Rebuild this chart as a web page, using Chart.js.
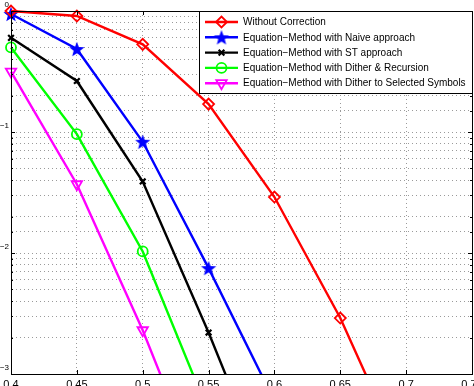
<!DOCTYPE html>
<html>
<head>
<meta charset="utf-8">
<script src="https://cdn.jsdelivr.net/npm/chart.js@4.4.1/dist/chart.umd.min.js"></script>
<style>
  html, body { margin: 0; padding: 0; background: #fff; overflow: hidden; }
  #wrap { width: 474px; height: 386px; }
</style>
</head>
<body>
<div id="wrap"><canvas id="c"></canvas></div>
<script>
/* ---- data -------------------------------------------------------------- */
const xValues = [0.4, 0.45, 0.5, 0.55, 0.6, 0.65, 0.7];
const withoutCorrection = [1, 0.909, 0.53, 0.17, 0.029, 0.0029, 0.00018];
const naiveApproach = [0.945, 0.485, 0.083, 0.0075, 0.0006];
const stApproach = [0.6, 0.264, 0.039, 0.0022, 0.0001];
const ditherRecursion = [0.5, 0.096, 0.0103, 0.00048];
const ditherSelected = [0.316, 0.037, 0.0023, 0.0001];
const seriesNames = [
  "Without Correction",
  "Equation\u2212Method with Naive approach",
  "Equation\u2212Method with ST approach",
  "Equation\u2212Method with Dither & Recursion",
  "Equation\u2212Method with Dither to Selected Symbols",
];
const xMin = 0.4, xMax = 0.75, xStep = 0.05;
const yMin = 0.001, yMax = 1;

const FONT = "'Liberation Sans', Arial, Helvetica, sans-serif";

/* filled pentagram, MATLAB style */
function starImage(color, r) {
  const s = Math.ceil(r * 2 + 2);
  const cv = document.createElement("canvas");
  cv.width = cv.height = s;
  const g = cv.getContext("2d");
  g.fillStyle = color;
  g.beginPath();
  for (let i = 0; i < 10; i++) {
    const rad = i % 2 ? r * 0.42 : r;
    const a = -Math.PI / 2 + (i * Math.PI) / 5;
    const px = s / 2 + rad * Math.cos(a), py = s / 2 + rad * Math.sin(a) + 0.8;
    i ? g.lineTo(px, py) : g.moveTo(px, py);
  }
  g.closePath();
  g.fill();
  return cv;
}

const pts = (ys) => ys.map((y, i) => ({ x: xValues[i], y }));

function series(label, ys, color, style, extra) {
  return Object.assign({
    label,
    data: pts(ys),
    borderColor: color,
    backgroundColor: "rgba(0,0,0,0)",
    pointBorderColor: color,
    pointBackgroundColor: "rgba(0,0,0,0)",
    borderWidth: 2.4,
    pointBorderWidth: 1.8,
    pointRadius: 5,
    pointStyle: style,
    tension: 0,
    clip: { left: 10, top: 10, right: 0, bottom: 0 },
  }, extra || {});
}

const datasets = [
  series(seriesNames[0], withoutCorrection, "#ff0000", "rectRot", { pointRadius: 5.5 }),
  series(seriesNames[1], naiveApproach, "#0000ff", starImage("#0000ff", 8)),
  series(seriesNames[2], stApproach, "#000000", "crossRot", { pointRadius: 4, pointBorderWidth: 2.2 }),
  series(seriesNames[3], ditherRecursion, "#00ff00", "circle", { pointRadius: 5 }),
  series(seriesNames[4], ditherSelected, "#ff00ff", "triangle", { pointRadius: 6, pointRotation: 180 }),
];

/* box round the axes with inward ticks, like MATLAB */
const boxPlugin = {
  id: "box",
  afterDraw(chart) {
    const { ctx, chartArea: a, scales } = chart;
    ctx.save();
    ctx.strokeStyle = "#000";
    ctx.lineWidth = 1;
    ctx.beginPath();
    scales.x.ticks.forEach((t) => {
      const px = Math.round(scales.x.getPixelForValue(t.value)) + 0.5;
      ctx.moveTo(px, a.bottom); ctx.lineTo(px, a.bottom - 4);
      ctx.moveTo(px, a.top); ctx.lineTo(px, a.top + 4);
    });
    scales.y.ticks.forEach((t) => {
      const py = Math.round(scales.y.getPixelForValue(t.value)) + 0.5;
      const len = t.label ? 4 : 2;
      ctx.moveTo(a.left, py); ctx.lineTo(a.left + len, py);
      ctx.moveTo(a.right, py); ctx.lineTo(a.right - len, py);
    });
    ctx.stroke();
    ctx.strokeRect(Math.round(a.left) + 0.5, Math.round(a.top) + 0.5,
      Math.round(a.right - a.left), Math.round(a.bottom - a.top));
    ctx.restore();
  },
};

/* boxed legend at the top right, drawn from the datasets */
const legendPlugin = {
  id: "boxLegend",
  afterDraw(chart) {
    const ctx = chart.ctx;
    const x0 = 199, y0 = 11, w = 273, h = 82;
    ctx.save();
    ctx.fillStyle = "#fff";
    ctx.fillRect(x0, y0, w, h);
    ctx.strokeStyle = "#000";
    ctx.lineWidth = 1;
    ctx.strokeRect(x0 + 0.5, y0 + 0.5, w, h);
    ctx.font = "10px " + FONT;
    ctx.textBaseline = "middle";
    chart.data.datasets.forEach((ds, i) => {
      const y = y0 + 11 + i * 15.3;
      ctx.strokeStyle = ds.borderColor;
      ctx.lineWidth = ds.borderWidth;
      ctx.beginPath();
      ctx.moveTo(x0 + 6, y);
      ctx.lineTo(x0 + 39, y);
      ctx.stroke();
      ctx.lineWidth = ds.pointBorderWidth;
      ctx.fillStyle = ds.pointBackgroundColor;
      Chart.helpers.drawPoint(ctx, {
        pointStyle: ds.pointStyle,
        rotation: ds.pointRotation || 0,
        radius: ds.pointRadius,
        borderWidth: ds.pointBorderWidth,
      }, x0 + 22.5, y);
      ctx.fillStyle = "#000";
      ctx.fillText(ds.label, x0 + 44, y + 0.5);
    });
    ctx.restore();
  },
};

const fmtX = (v) => String(Number(v.toFixed(2)));
const fmtY = (v) => {
  const e = Math.log10(v);
  const r = Math.round(e);
  if (Math.abs(e - r) > 1e-6) return "";
  return r === 0 ? "0" : "\u2212" + (-r);
};

new Chart(document.getElementById("c"), {
  type: "line",
  data: { datasets },
  plugins: [boxPlugin, legendPlugin],
  options: {
    responsive: true,
    maintainAspectRatio: false,
    animation: false,
    layout: { autoPadding: false, padding: { top: 11, right: 2, left: 0, bottom: 0 } },
    plugins: { legend: { display: false }, tooltip: { enabled: false } },
    scales: {
      x: {
        type: "linear",
        min: xMin,
        max: xMax,
        afterFit: (s) => { s.height = 12; s.paddingLeft = 0; s.paddingRight = 0; },
        ticks: {
          stepSize: xStep,
          autoSkip: false,
          maxRotation: 0,
          padding: 4,
          color: "#000",
          font: { size: 11, family: FONT },
          callback: fmtX,
        },
        grid: { color: "#9a9a9a", lineWidth: 1, drawTicks: false },
        border: { display: true, color: "#000", dash: [1, 3] },
      },
      y: {
        type: "logarithmic",
        min: yMin,
        max: yMax,
        afterFit: (s) => { s.width = 11; s.paddingTop = 0; s.paddingBottom = 0; },
        ticks: {
          autoSkip: false,
          padding: 2,
          labelOffset: -6,
          color: "#000",
          font: { size: 8, family: FONT },
          callback: fmtY,
        },
        grid: { color: "#9a9a9a", lineWidth: 1, drawTicks: false },
        border: { display: true, color: "#000", dash: [1, 3] },
      },
    },
  },
});
</script>
</body>
</html>
